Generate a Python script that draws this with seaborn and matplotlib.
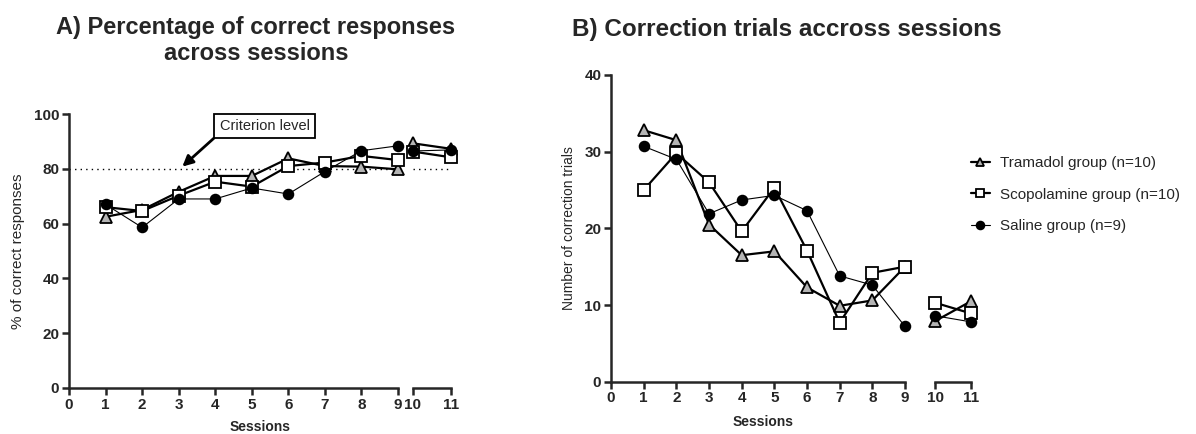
import numpy as np
import pandas as pd
import matplotlib
matplotlib.use('Agg')
import matplotlib.pyplot as plt
import seaborn as sns

sns.set_style('ticks')
plt.rcParams['font.family'] = ['Liberation Sans', 'DejaVu Sans']

# Data
sessions = [1, 2, 3, 4, 5, 6, 7, 8, 9, 10, 11]
groups = ['Tramadol group (n=10)', 'Scopolamine group (n=10)', 'Saline group (n=9)']

# A) percentage of correct responses
tramadol_pct = [62.5, 65.0, 71.6, 77.4, 77.4, 83.8, 81.0, 80.8, 79.8, 89.3, 87.3]
scopolamine_pct = [66.0, 64.6, 70.2, 75.3, 73.5, 81.0, 82.3, 84.7, 83.2, 86.3, 84.2]
saline_pct = [67.0, 58.6, 69.0, 69.0, 73.0, 70.8, 79.0, 86.6, 88.4, 86.5, 86.9]

# B) number of correction trials
tramadol_corr = [32.8, 31.5, 20.5, 16.5, 17.0, 12.3, 9.9, 10.6, 15.0, 7.9, 10.5]
scopolamine_corr = [25.0, 29.8, 26.0, 19.6, 25.3, 17.1, 7.7, 14.2, 15.0, 10.3, 8.9]
saline_corr = [30.7, 29.0, 21.9, 23.7, 24.3, 22.3, 13.8, 12.6, 7.2, 8.6, 7.8]

criterion = 80

styles = {
    groups[0]: dict(marker='^', markerfacecolor='#b4b4b4', lw=1.6, ms=8),
    groups[1]: dict(marker='s', markerfacecolor='white', lw=1.6, ms=8),
    groups[2]: dict(marker='o', markerfacecolor='black', lw=0.8, ms=7),
}

def make_df(values):
    rows = []
    for g, vals in zip(groups, values):
        for s, v in zip(sessions, vals):
            rows.append({'Session': s, 'Value': v, 'Group': g})
    return pd.DataFrame(rows)

df_a = make_df([tramadol_pct, scopolamine_pct, saline_pct])
df_b = make_df([tramadol_corr, scopolamine_corr, saline_corr])

fig = plt.figure(figsize=(11.96, 4.34), dpi=100)

def draw_panel(df, main_rect, brk_rect, ylim, yticks, ylabel, ylabel_size):
    ax = fig.add_axes(main_rect)
    axb = fig.add_axes(brk_rect)
    for g in groups:
        d = df[df['Group'] == g]
        st = styles[g]
        for a, part in ((ax, d[d['Session'] <= 9]), (axb, d[d['Session'] >= 10])):
            sns.lineplot(data=part, x='Session', y='Value', ax=a, color='black',
                         marker=st['marker'], markerfacecolor=st['markerfacecolor'],
                         markeredgecolor='black', markeredgewidth=1.3,
                         markersize=st['ms'], lw=st['lw'], clip_on=False,
                         label=g if a is ax else None, legend=False)
    ax.set_xlim(0, 9)
    ax.set_ylim(*ylim)
    ax.set_xticks(range(0, 10))
    ax.set_yticks(yticks)
    axb.set_xlim(10, 11)
    axb.set_ylim(*ylim)
    axb.set_xticks([10, 11])
    axb.set_yticks([])
    for a in (ax, axb):
        a.set_xlabel('')
        a.set_ylabel('')
        a.spines['top'].set_visible(False)
        a.spines['right'].set_visible(False)
        for sp in a.spines.values():
            sp.set_linewidth(1.8)
        a.tick_params(width=1.8, length=5, labelsize=11, pad=2)
        for lbl in a.get_xticklabels() + a.get_yticklabels():
            lbl.set_fontweight('bold')
        a.patch.set_alpha(0)
    axb.spines['left'].set_visible(False)
    ax.set_ylabel(ylabel, fontsize=ylabel_size, labelpad=6)
    return ax, axb

axA, axA2 = draw_panel(df_a, [0.0577, 0.106, 0.2751, 0.6313],
                       [0.3453, 0.106, 0.0318, 0.6313],
                       (0, 100), range(0, 101, 20), '% of correct responses', 11)
for a in (axA, axA2):
    a.axhline(criterion, color='black', ls=(0, (1, 3)), lw=1, zorder=0, clip_on=False)

axA.annotate('Criterion level', xy=(3.1, 80.8), xytext=(5.35, 95.6),
             fontsize=10.5, ha='center', va='center',
             bbox=dict(boxstyle='square,pad=0.35', fc='white', ec='black', lw=1.3),
             arrowprops=dict(arrowstyle='-|>,head_length=0.6,head_width=0.3',
                             color='black', lw=2, shrinkA=0, shrinkB=0,
                             relpos=(0.0, 0.0)))

axB, axB2 = draw_panel(df_b, [0.5109, 0.1205, 0.2458, 0.7067],
                       [0.7818, 0.1205, 0.0301, 0.7067],
                       (0, 40), range(0, 41, 10), 'Number of correction trials', 10)

fig.text(0.214, 0.907, 'A) Percentage of correct responses\nacross sessions',
         ha='center', va='center', fontsize=17, fontweight='bold', linespacing=1.2)
fig.text(0.478, 0.931, 'B) Correction trials accross sessions',
         ha='left', va='center', fontsize=17.5, fontweight='bold')
fig.text(0.2174, 0.015, 'Sessions', ha='center', va='center', fontsize=10, fontweight='bold')
fig.text(0.638, 0.027, 'Sessions', ha='center', va='center', fontsize=10, fontweight='bold')

handles, labels = axB.get_legend_handles_labels()
fig.legend(handles, labels, loc='upper left', bbox_to_anchor=(0.8, 0.672),
           frameon=False, fontsize=11, handlelength=1.3, labelspacing=1.15,
           handletextpad=0.6, markerscale=0.8)

fig.savefig('out.png', dpi=100)
